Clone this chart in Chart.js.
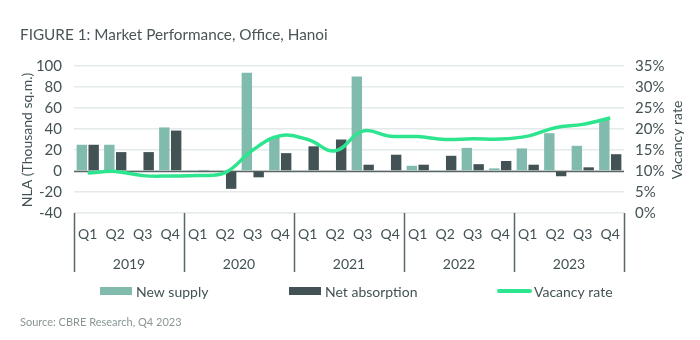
<!DOCTYPE html>
<html>
<head>
<meta charset="utf-8">
<script src="https://cdn.jsdelivr.net/npm/chart.js@4.4.1/dist/chart.umd.min.js"></script>
<style>
  html, body { margin: 0; padding: 0; background: #fff; }
  #wrap { position: relative; width: 700px; height: 340px; }
</style>
</head>
<body>
<div id="wrap"><canvas id="grafico" width="700" height="340"></canvas></div>
<script>
// ---- datos ----
const years = ["2019", "2020", "2021", "2022", "2023"];
const quarters = ["Q1", "Q2", "Q3", "Q4"];
const newSupply = [25, 25, 0, 41.5, 1, 0, 93.5, 32, 0, 0, 90, 0, 5, 0, 22, 2.5, 21.5, 36, 24, 49];
const netAbsorption = [25, 18, 18, 38.5, 1, -17, -6, 17, 23.5, 30, 6, 15.5, 6, 14.5, 6.5, 9.5, 6, -5, 3.5, 16];
const vacancyRate = [9.5, 9.9, 8.9, 8.8, 8.9, 9.6, 15, 18.4, 17.5, 14.8, 19.5, 18.3, 18.2, 17.5, 17.7, 17.6, 18.3, 20.3, 21.1, 22.6];
const nlaTicks = [-40, -20, 0, 20, 40, 60, 80, 100];
const rateTicks = [0, 5, 10, 15, 20, 25, 30, 35];

const labels = [];
years.forEach(y => quarters.forEach(q => labels.push(q)));

const FONT = "Lato, 'Open Sans', sans-serif";
const C_SUPPLY = "#80bbad";
const C_ABSORB = "#435254";
const C_VACANCY = "#2ee58f";
const C_TEXT = "#435254";
const C_GRID = "#e4e9e9";

// dibuja titulos, separadores de año, leyenda y fuente
const extras = {
  id: "extras",
  afterDraw(chart) {
    const ctx = chart.ctx;
    const x = chart.scales.x;
    const area = chart.chartArea;
    ctx.save();

    ctx.fillStyle = "#4a5556";
    ctx.font = "15.3px " + FONT;
    ctx.textBaseline = "middle";
    ctx.textAlign = "left";
    ctx.fillText("FIGURE 1: Market Performance, Office, Hanoi", 20, 35);

    // titulos de los ejes
    ctx.fillStyle = C_TEXT;
    ctx.font = "14px " + FONT;
    ctx.textAlign = "center";
    ctx.save();
    ctx.translate(27, 140);
    ctx.rotate(-Math.PI / 2);
    ctx.fillText("NLA (Thousand sq.m.)", 0, 0);
    ctx.restore();
    ctx.save();
    ctx.translate(677, 140);
    ctx.rotate(-Math.PI / 2);
    ctx.fillText("Vacancy rate", 0, 0);
    ctx.restore();

    // separadores y años
    const step = x.getPixelForValue(1) - x.getPixelForValue(0);
    ctx.strokeStyle = "#5a6566";
    ctx.lineWidth = 1.5;
    for (let i = 0; i <= years.length; i++) {
      const px = Math.round(x.getPixelForValue(i * 4) - step / 2) + 0.5;
      ctx.beginPath();
      ctx.moveTo(px, area.bottom);
      ctx.lineTo(px, 272);
      ctx.stroke();
    }
    ctx.font = "14px " + FONT;
    years.forEach((y, i) => {
      const cx = (x.getPixelForValue(i * 4) + x.getPixelForValue(i * 4 + 3)) / 2;
      ctx.fillText(y, cx, 264);
    });

    // leyenda
    ctx.textAlign = "left";
    ctx.font = "14px " + FONT;
    ctx.fillStyle = C_SUPPLY;
    ctx.fillRect(100, 287, 32, 8);
    ctx.fillStyle = C_ABSORB;
    ctx.fillRect(289, 287, 32, 8);
    ctx.strokeStyle = C_VACANCY;
    ctx.lineWidth = 4;
    ctx.lineCap = "round";
    ctx.beginPath();
    ctx.moveTo(499, 291);
    ctx.lineTo(530, 291);
    ctx.stroke();
    ctx.fillStyle = C_TEXT;
    ctx.fillText("New supply", 136, 292);
    ctx.fillText("Net absorption", 325, 292);
    ctx.fillText("Vacancy rate", 534, 292);

    ctx.fillStyle = "#8a9595";
    ctx.font = "11px " + FONT;
    ctx.fillText("Source: CBRE Research, Q4 2023", 20, 322);
    ctx.restore();
  }
};

// linea del cero mas oscura
const zeroLine = {
  id: "zeroLine",
  beforeDatasetsDraw(chart) {
    const ctx = chart.ctx;
    const y = Math.round(chart.scales.y.getPixelForValue(0)) + 0.5;
    ctx.save();
    ctx.strokeStyle = "#5a6566";
    ctx.lineWidth = 1.5;
    ctx.beginPath();
    ctx.moveTo(chart.chartArea.left, y);
    ctx.lineTo(chart.chartArea.right, y);
    ctx.stroke();
    ctx.restore();
  }
};

new Chart(document.getElementById("grafico"), {
  data: {
    labels: labels,
    datasets: [
      {
        type: "line",
        label: "Vacancy rate",
        data: vacancyRate,
        yAxisID: "y1",
        borderColor: C_VACANCY,
        borderWidth: 3.5,
        pointRadius: 0,
        tension: 0.4,
        order: 0
      },
      {
        type: "bar",
        label: "New supply",
        data: newSupply,
        yAxisID: "y",
        backgroundColor: C_SUPPLY,
        categoryPercentage: 0.86,
        barPercentage: 0.88,
        order: 1
      },
      {
        type: "bar",
        label: "Net absorption",
        data: netAbsorption,
        yAxisID: "y",
        backgroundColor: C_ABSORB,
        categoryPercentage: 0.86,
        barPercentage: 0.88,
        order: 1
      }
    ]
  },
  options: {
    responsive: false,
    animation: false,
    layout: { padding: { top: 66, bottom: 87, left: 0, right: 0 } },
    plugins: { legend: { display: false }, tooltip: { enabled: false } },
    scales: {
      x: {
        grid: { display: false, drawTicks: false },
        border: { display: false },
        ticks: { color: C_TEXT, font: { family: FONT, size: 14 }, padding: 13, maxRotation: 0, autoSkip: false },
        afterFit(s) { s.height = 40; }
      },
      y: {
        position: "left",
        min: -40,
        max: 100,
        afterBuildTicks(s) { s.ticks = nlaTicks.map(v => ({ value: v })); },
        grid: { color: C_GRID, lineWidth: 1.5, drawTicks: false },
        border: { display: false },
        ticks: { color: C_TEXT, font: { family: FONT, size: 15 }, padding: 12 },
        afterFit(s) { s.width = 74; }
      },
      y1: {
        position: "right",
        min: 0,
        max: 35,
        afterBuildTicks(s) { s.ticks = rateTicks.map(v => ({ value: v })); },
        grid: { display: false, drawTicks: false },
        border: { display: false },
        ticks: { color: C_TEXT, font: { family: FONT, size: 15 }, padding: 11, callback: v => v + "%" },
        afterFit(s) { s.width = 76; }
      }
    }
  },
  plugins: [zeroLine, extras]
});
</script>
</body>
</html>
